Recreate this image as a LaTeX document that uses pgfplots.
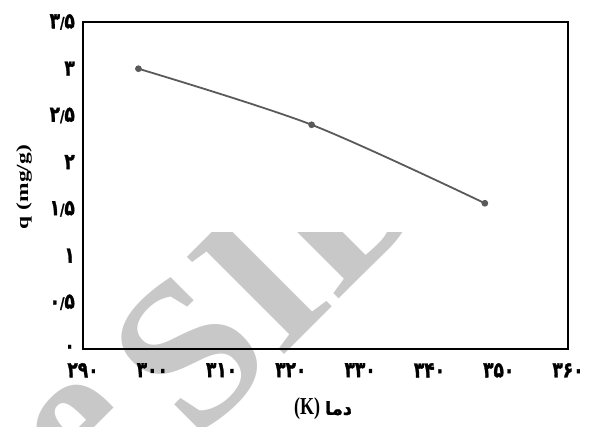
\documentclass[border=0pt]{standalone}
\usepackage{pgfplots}
\pgfplotsset{compat=1.18}
\usepackage{fontspec}
\usepackage{graphicx}
\setmainfont{Liberation Serif}
\newfontfamily\fa[Script=Arabic]{DejaVu Sans}
\newfontfamily\fad[Script=Arabic, FakeBold=1.5]{DejaVu Sans Bold}
\TeXXeTstate=1
\definecolor{wm}{HTML}{C8C8C8}
\definecolor{ln}{HTML}{5A5A5A}
\newcommand{\fd}[1]{\scalebox{1}[1.3]{\fontsize{17}{17}\fad #1}}
\newcommand{\sep}{{\fontsize{12}{12}\selectfont/}}
\begin{document}
\begin{tikzpicture}
\path[use as bounding box] (0pt,0pt) rectangle (592pt,426pt);
\begin{scope}
\clip (0pt,0pt) rectangle (592pt,193pt);
\node[text=wm, rotate=45, inner sep=0pt, font=\fontsize{210}{210}\selectfont\bfseries] at (272pt,156pt) {SID};
\node[text=wm, rotate=45, inner sep=0pt, font=\fontsize{210}{210}\selectfont\bfseries] at (84pt,-10pt) {e};
\end{scope}
\begin{axis}[
  at={(83pt,77pt)}, anchor=south west,
  scale only axis, width=485pt, height=327pt,
  xmin=290, xmax=360, ymin=0, ymax=3.5,
  xtick={290,300,310,320,330,340,350,360},
  ytick={0,0.5,1,1.5,2,2.5,3,3.5},
  xticklabels={\fd{۲۹۰},\fd{۳۰۰},\fd{۳۱۰},\fd{۳۲۰},\fd{۳۳۰},\fd{۳۴۰},\fd{۳۵۰},\fd{۳۶۰}},
  yticklabels={\fd{۰},\fd{۰\sep۵},\fd{۱},\fd{۱\sep۵},\fd{۲},\fd{۲\sep۵},\fd{۳},\fd{۳\sep۵}},
  major tick length=0pt,
  axis line style={line width=1.3pt},
  xticklabel style={anchor=north, inner sep=0pt, yshift=-14pt},
  yticklabel style={anchor=east, inner sep=0pt, xshift=-8pt},
  xlabel={\scalebox{1}[1.35]{\fontsize{18}{18}\selectfont\bfseries (K)}\hspace{5pt}{\fontsize{18}{18}\fad\beginR دما\endR}},
  ylabel={\scalebox{1.38}[1]{\fontsize{17}{17}\selectfont\bfseries q (mg/g)}},
  xlabel style={at={(axis description cs:0.495,-0.1835)}, anchor=center},
  ylabel style={at={(axis description cs:-0.1216,0.495)}, anchor=center},
  clip=false,
]
\addplot[smooth, color=ln, line width=1.8pt, mark=*, mark size=2.4pt, mark options={fill=ln, draw=ln}]
  coordinates {(298,3.0) (323,2.40) (348,1.56)};
\end{axis}
\end{tikzpicture}
\end{document}
